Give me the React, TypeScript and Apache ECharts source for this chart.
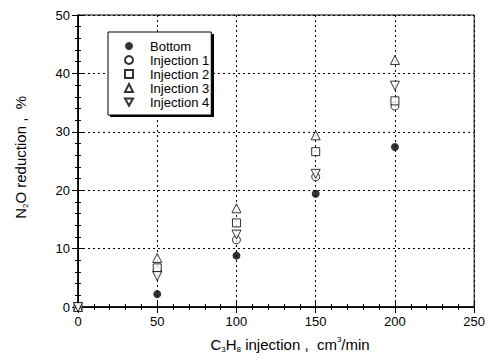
import React, { useEffect, useRef } from "react";
import * as echarts from "echarts";

const xValues = [0, 50, 100, 150, 200];
const bottom = [0, 2.2, 8.8, 19.4, 27.4];
const injection1 = [0, 6.2, 11.5, 22.3, 34.4];
const injection2 = [0, 6.7, 14.4, 26.6, 35.3];
const injection3 = [0, 8.4, 16.9, 29.4, 42.3];
const injection4 = [0, 5.3, 12.4, 22.8, 37.9];
const seriesNames = ["Bottom", "Injection 1", "Injection 2", "Injection 3", "Injection 4"];
const yTitle = "{n|N}{s|2}{n|O reduction ,  %}";
const xTitle = "{n|C}{s|3}{n|H}{s|8}{n| injection ,  cm}{p|3}{n|/min}";

const FONT = "'Liberation Sans', Arial, sans-serif";
const DOWN_TRI = "path://M0,0 L10,0 L5,9 Z";

export default function App() {
  const ref = useRef<HTMLDivElement>(null);
  useEffect(() => {
    document.body.style.margin = "0";
    if (!ref.current) return;
    const chart = echarts.init(ref.current, null, { renderer: "svg" });
    const pts = (arr: number[]) => xValues.map((x, i) => [x, arr[i]]);
    const open = { color: "#fff", borderColor: "#000", borderWidth: 1 };
    const mk = (name: string, data: number[], symbol: string, size: number, style: any, z: number) => ({
      name,
      type: "scatter",
      data: pts(data),
      symbol,
      symbolSize: size,
      itemStyle: style,
      clip: false,
      z,
    });
    const axisCommon = {
      axisLine: { show: true, lineStyle: { color: "#000", width: 1.5 } },
      axisTick: { show: true, inside: true, length: 6, lineStyle: { color: "#000" } },
      minorTick: { show: true, splitNumber: 5, length: 3, lineStyle: { color: "#000" } },
    };
    const rich = {
      n: { fontSize: 15, color: "#000", fontFamily: FONT, lineHeight: 18 },
      s: { fontSize: 8, color: "#000", fontFamily: FONT, lineHeight: 8, verticalAlign: "bottom" },
      p: { fontSize: 8, color: "#000", fontFamily: FONT, lineHeight: 8, verticalAlign: "top" },
    };
    chart.setOption({
      animation: false,
      backgroundColor: "#fff",
      textStyle: { fontFamily: FONT },
      grid: { left: 78, top: 15, right: 12, bottom: 51, show: true, borderColor: "#000", borderWidth: 1 },
      graphic: [
        {
          type: "rect",
          z: 3,
          shape: { x: 110, y: 34, width: 104, height: 83 },
          style: { fill: "#000" },
        },
        {
          type: "text",
          left: 13,
          top: 96,
          rotation: Math.PI / 2,
          style: { text: yTitle, rich },
        },
      ],
      legend: {
        orient: "vertical",
        left: 108,
        top: 32,
        width: 104,
        data: seriesNames,
        itemWidth: 8,
        itemHeight: 8,
        itemGap: 0,
        padding: [7, 2, 6, 16],
        backgroundColor: "#fff",
        borderColor: "#000",
        borderWidth: 1,
        borderRadius: 0,
        z: 5,
        textStyle: { fontSize: 13, lineHeight: 14, color: "#000", fontFamily: FONT, padding: [0, 0, 0, 12] },
      },
      xAxis: [
        {
          type: "value",
          min: 0,
          max: 250,
          interval: 50,
          ...axisCommon,
          axisLabel: { color: "#000", fontSize: 13, margin: 8, fontFamily: FONT },
          splitLine: {
            show: true,
            lineStyle: { color: "#000", type: [2, 3], width: 1 },
          },
          name: xTitle,
          nameLocation: "middle",
          nameGap: 28,
          nameTextStyle: {
            padding: [0, 0, 0, 28],
            rich,
          },
        },
        {
          type: "value",
          position: "top",
          min: 0,
          max: 250,
          interval: 50,
          ...axisCommon,
          axisLine: { show: true, lineStyle: { color: "#000", width: 1 } },
          axisLabel: { show: false },
          splitLine: { show: false },
        },
      ],
      yAxis: [
        {
          type: "value",
          min: 0,
          max: 50,
          interval: 10,
          ...axisCommon,
          axisLabel: { color: "#000", fontSize: 13, margin: 8, fontFamily: FONT },
          splitLine: {
            show: true,
            lineStyle: { color: "#000", type: [2, 3], width: 1 },
          },
        },
        {
          type: "value",
          position: "right",
          min: 0,
          max: 50,
          interval: 10,
          ...axisCommon,
          axisLine: { show: true, lineStyle: { color: "#000", width: 1 } },
          axisLabel: { show: false },
          splitLine: { show: false },
        },
      ],
      series: [
        mk(seriesNames[0], bottom, "circle", 8, { color: "#000" }, 2),
        mk(seriesNames[1], injection1, "circle", 8, open, 3),
        mk(seriesNames[2], injection2, "rect", 8, open, 4),
        mk(seriesNames[3], injection3, "triangle", 9, open, 5),
        mk(seriesNames[4], injection4, DOWN_TRI, 9, open, 6),
      ],
    });
    return () => chart.dispose();
  }, []);
  return <div ref={ref} style={{ width: 488, height: 358 }} />;
}
